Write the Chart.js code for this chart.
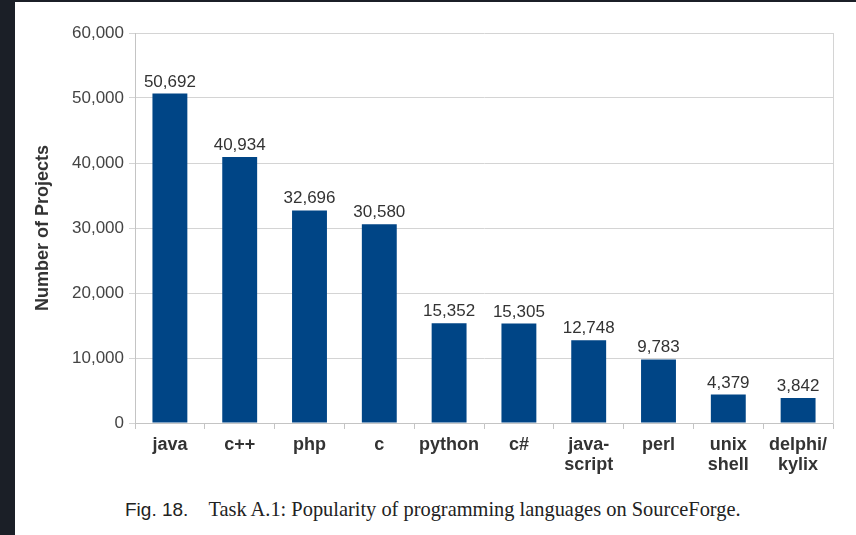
<!DOCTYPE html>
<html>
<head>
<meta charset="utf-8">
<script src="https://cdn.jsdelivr.net/npm/chart.js@4.4.1/dist/chart.umd.min.js"></script>
<style>
  html, body { margin: 0; padding: 0; background: #1b1f27; width: 856px; height: 535px; overflow: hidden; }
  #sheet { position: absolute; left: 15px; top: 2px; width: 841px; height: 533px; background: #fff; }
  #wrap { position: absolute; left: 0; top: 0; width: 841px; height: 480px; }
  #caption { position: absolute; left: 110px; top: 496px; white-space: nowrap; color: #222; }
  #caption .fig { font-family: "Liberation Sans", Arial, sans-serif; font-size: 19px; }
  #caption .txt { font-family: "Liberation Serif", "Times New Roman", serif; font-size: 20.4px; margin-left: 20px; }
</style>
</head>
<body>
<div id="sheet">
  <div id="wrap"><canvas id="chart"></canvas></div>
  <div id="caption"><span class="fig">Fig. 18.</span><span class="txt">Task A.1: Popularity of programming languages on SourceForge.</span></div>
</div>
<script>
const languages = ['java', 'c++', 'php', 'c', 'python', 'c#', ['java-', 'script'], 'perl', ['unix', 'shell'], ['delphi/', 'kylix']];
const projects = [50692, 40934, 32696, 30580, 15352, 15305, 12748, 9783, 4379, 3842];
const yTicks = [0, 10000, 20000, 30000, 40000, 50000, 60000];

const barLabels = {
  id: 'barLabels',
  afterDatasetsDraw(chart) {
    const ctx = chart.ctx;
    const meta = chart.getDatasetMeta(0);
    ctx.save();
    ctx.font = '17px "Liberation Sans", Arial, sans-serif';
    ctx.fillStyle = '#333';
    ctx.textAlign = 'center';
    ctx.textBaseline = 'alphabetic';
    meta.data.forEach((bar, i) => {
      ctx.fillText(projects[i].toLocaleString('en-US'), bar.x, bar.y - 7);
    });
    ctx.restore();
  }
};

const ctx = document.getElementById('chart').getContext('2d');
new Chart(ctx, {
  type: 'bar',
  data: {
    labels: languages,
    datasets: [{
      data: projects,
      backgroundColor: '#004586',
      borderWidth: 0,
      barPercentage: 0.5,
      categoryPercentage: 1.0
    }]
  },
  options: {
    responsive: true,
    maintainAspectRatio: false,
    animation: false,
    layout: { padding: { left: 17, right: 23, top: 31, bottom: 0 } },
    plugins: { legend: { display: false }, tooltip: { enabled: false } },
    scales: {
      x: {
        offset: true,
        grid: { offset: true, drawOnChartArea: false, tickLength: 6, color: '#c4c4c4' },
        border: { color: '#c4c4c4' },
        ticks: {
          color: '#333',
          padding: 6,
          maxRotation: 0,
          autoSkip: false,
          font: { family: '"Liberation Sans", Arial, sans-serif', size: 18, weight: 'bold', lineHeight: 1.1 }
        },
        afterFit(scale) { scale.height = 59; }
      },
      y: {
        min: 0,
        max: 60000,
        afterBuildTicks(scale) { scale.ticks = yTicks.map(v => ({ value: v })); },
        grid: { tickLength: 6, color: '#d4d4d4' },
        border: { color: '#c4c4c4' },
        ticks: {
          color: '#444',
          padding: 5,
          font: { family: '"Liberation Sans", Arial, sans-serif', size: 17 },
          callback: v => v.toLocaleString('en-US')
        },
        title: {
          display: true,
          text: 'Number of Projects',
          color: '#333',
          padding: { top: 0, bottom: 0 },
          font: { family: '"Liberation Sans", Arial, sans-serif', size: 18, weight: 'bold' }
        },
        afterFit(scale) { scale.width = 103; }
      },
      yRight: {
        position: 'right',
        min: 0,
        max: 60000,
        grid: { display: false },
        border: { display: true, color: '#d4d4d4' },
        ticks: { display: false },
        afterFit(scale) { scale.width = 0; }
      }
    }
  },
  plugins: [barLabels]
});
</script>
</body>
</html>
